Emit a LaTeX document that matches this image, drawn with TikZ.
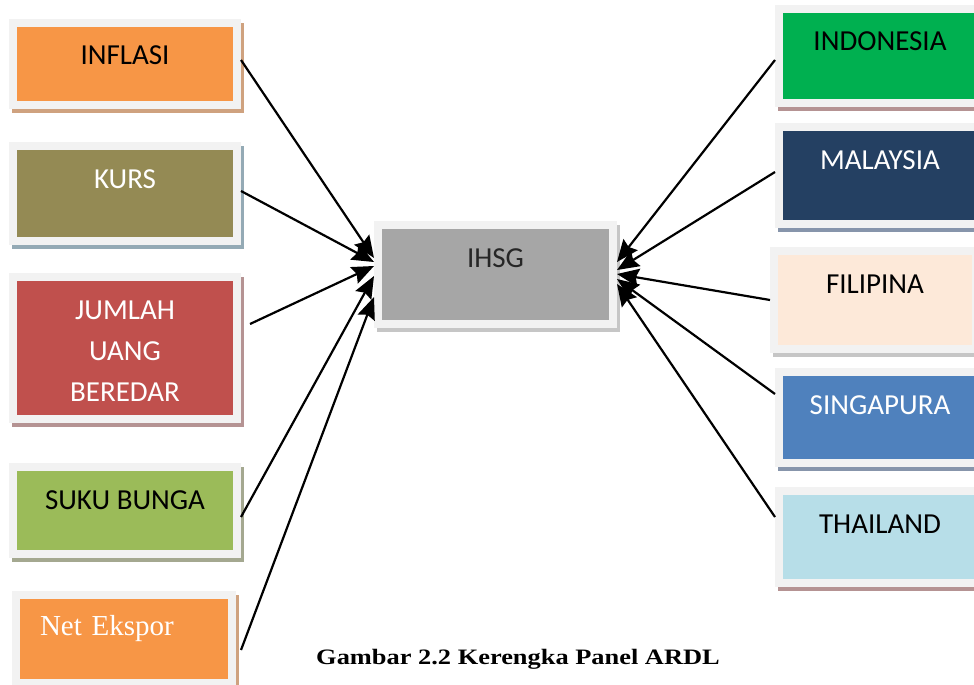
\documentclass[tikz,border=0pt]{standalone}
\usepackage{fontspec}
\usepackage{graphicx}
\setmainfont{Carlito}
\newfontfamily\timesfont{Liberation Serif}
\usetikzlibrary{arrows.meta,shadows}

\definecolor{framegray}{HTML}{F2F2F2}
\definecolor{orangefill}{HTML}{F79646}
\definecolor{olivefill}{HTML}{948A54}
\definecolor{redfill}{HTML}{C0504D}
\definecolor{greenfill}{HTML}{9BBB59}
\definecolor{grayfill}{HTML}{A6A6A6}
\definecolor{indofill}{HTML}{00B050}
\definecolor{navyfill}{HTML}{244062}
\definecolor{peachfill}{HTML}{FDE9D9}
\definecolor{bluefill}{HTML}{4F81BD}
\definecolor{aquafill}{HTML}{B7DEE8}
\definecolor{tanshadow}{HTML}{CFA27F}
\definecolor{steelshadow}{HTML}{94AAB5}
\definecolor{roseshadow}{HTML}{B59393}
\definecolor{sageshadow}{HTML}{A4A890}
\definecolor{grayshadow}{HTML}{C6C6C6}
\definecolor{slateshadow}{HTML}{8795AB}

\begin{document}
\begin{tikzpicture}[x=1pt, y=-1pt,
    box/.style 2 args={draw=framegray, line width=8pt, fill=#1,
        inner xsep=0pt, inner ysep=0pt, text height=42pt, minimum width=224pt,
        font=\fontsize{29}{41}\selectfont, align=center,
        drop shadow={shadow xshift=3pt, shadow yshift=-4pt, opacity=1, fill=#2, draw=#2}},
    arrow/.style={line width=2.2pt, -{Stealth[length=22pt, width=18pt, inset=3pt]}}]
    \useasboundingbox (0,0) rectangle (974,685);
    \clip (0,0) rectangle (974,685);

    % Left column
    \node[box={orangefill}{tanshadow}, text depth=40pt] (inflasi) at (125,64) {INFLASI};
    \node[box={olivefill}{steelshadow}, text depth=53pt, text=white] (kurs) at (125,193.5) {KURS};
    \node[box={redfill}{roseshadow}, text depth=100pt, text width=216pt, text=white] (jumlah) at (125,348) {JUMLAH\\UANG\\BEREDAR};
    \node[box={greenfill}{sageshadow}, text depth=45pt] (suku) at (125,510.5) {SUKU BUNGA};
    \node[box={orangefill}{tanshadow}, text height=40pt, text depth=48pt, minimum width=216pt,
        text width=168pt, inner xsep=24pt, align=left, text=white,
        font=\timesfont\fontsize{29}{35}\selectfont] (netekspor) at (124,639) {Net Ekspor};

    % Centre
    \node[box={grayfill}{grayshadow}, text depth=57pt, minimum width=235pt, text=black!85] (ihsg) at (495.5,274.5) {IHSG};

    % Right column
    \node[box={indofill}{roseshadow}, text depth=52pt, minimum width=202pt] (indonesia) at (880,56) {INDONESIA};
    \node[box={navyfill}{slateshadow}, text depth=55pt, minimum width=202pt, text=white] (malaysia) at (880,175.5) {MALAYSIA};
    \node[box={peachfill}{grayshadow}, text depth=56pt, minimum width=202pt] (filipina) at (875,300) {FILIPINA};
    \node[box={bluefill}{slateshadow}, text depth=49pt, minimum width=202pt, text=white] (singapura) at (880,417.5) {SINGAPURA};
    \node[box={aquafill}{roseshadow}, text depth=50pt, minimum width=202pt] (thailand) at (880,537) {THAILAND};

    % Arrows into IHSG
    \draw[arrow] ([yshift=4pt]inflasi.east) -- ([yshift=16.5pt]ihsg.west);
    \draw[arrow] ([yshift=2.5pt]kurs.east) -- ([yshift=12.5pt]ihsg.west);
    \draw[arrow] ([shift={(9pt,24pt)}]jumlah.east) -- ([yshift=8.5pt]ihsg.west);
    \draw[arrow] ([yshift=-6.5pt]suku.east) -- ([yshift=-1.5pt]ihsg.west);
    \draw[arrow] ([shift={(5pt,-11pt)}]netekspor.east) -- ([yshift=-22.5pt]ihsg.west);

    \draw[arrow] ([yshift=-4pt]indonesia.west) -- ([yshift=12.5pt]ihsg.east);
    \draw[arrow] ([yshift=3.5pt]malaysia.west) -- ([yshift=4.5pt]ihsg.east);
    \draw[arrow] (filipina.west) -- ([yshift=0.5pt]ihsg.east);
    \draw[arrow] ([yshift=23.5pt]singapura.west) -- ([yshift=-4.5pt]ihsg.east);
    \draw[arrow] ([yshift=20pt]thailand.west) -- ([yshift=-9.5pt]ihsg.east);

    % Caption
    \node[anchor=base, font=\timesfont\bfseries\fontsize{22}{26}\selectfont] (caption) at (518,664) {\scalebox{1.2}[1]{Gambar 2.2 Kerengka Panel ARDL}};
\end{tikzpicture}
\end{document}
